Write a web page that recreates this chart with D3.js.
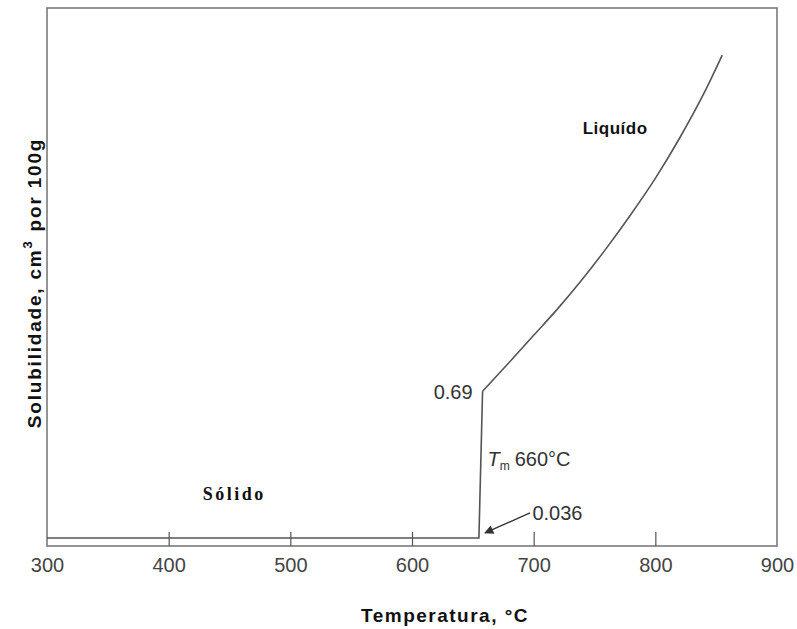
<!DOCTYPE html>
<html>
<head>
<meta charset="utf-8">
<script src="https://d3js.org/d3.v7.min.js"></script>
<style>
  body { margin: 0; background: #fff; }
  svg { display: block; }
</style>
</head>
<body>
<svg width="797" height="629"></svg>
<script>
// solid phase (flat line up to just below Tm)
const solidTemp = [300, 655];
const solidVal = [0.036, 0.036];

// liquid branch
const liquidTemp = [658, 680, 700, 720, 740, 760, 780, 800, 820, 840, 855];
const liquidVal = [0.69, 0.82, 0.94, 1.06, 1.19, 1.33, 1.48, 1.64, 1.82, 2.02, 2.19];

const xTicks = [300, 400, 500, 600, 700, 800, 900];

const svg = d3.select('svg');
const mLeft = 47, mRight = 777, mTop = 8, mBottom = 546;
const sans = 'Liberation Sans, Arial, sans-serif';

const x = d3.scaleLinear().domain([300, 900]).range([mLeft, mRight]);
const y = d3.scaleLinear().domain([0, 2.4]).range([mBottom, mTop]);

// frame
svg.append('rect')
  .attr('x', mLeft).attr('y', mTop)
  .attr('width', mRight - mLeft).attr('height', mBottom - mTop)
  .attr('fill', 'none')
  .attr('stroke', '#7a7a7a')
  .attr('stroke-width', 1.6);

// x axis, ticks pointing inward
const xAxis = d3.axisBottom(x).tickValues(xTicks).tickSizeInner(-14).tickSizeOuter(0).tickPadding(12);
const gx = svg.append('g').attr('transform', `translate(0,${mBottom})`).call(xAxis);
gx.select('.domain').remove();
gx.selectAll('.tick line')
  .attr('stroke', '#555')
  .attr('stroke-width', 1.2)
  .filter(d => d === 300 || d === 900).remove();
gx.selectAll('.tick text')
  .attr('font-family', sans)
  .attr('font-size', 20)
  .attr('fill', '#444');

// phase curve: solid line + jump at Tm, then the liquid branch
const solidPts = solidTemp.map((t, i) => [t, solidVal[i]]);
solidPts.push([liquidTemp[0], liquidVal[0]]);
const liquidPts = liquidTemp.map((t, i) => [t, liquidVal[i]]);

const lin = d3.line().x(d => x(d[0])).y(d => y(d[1]));
const smooth = d3.line().x(d => x(d[0])).y(d => y(d[1])).curve(d3.curveMonotoneX);

svg.append('path')
  .datum(solidPts)
  .attr('d', lin)
  .attr('fill', 'none')
  .attr('stroke', '#555')
  .attr('stroke-width', 1.6);

svg.append('path')
  .datum(liquidPts)
  .attr('d', smooth)
  .attr('fill', 'none')
  .attr('stroke', '#555')
  .attr('stroke-width', 1.6);

// annotations
svg.append('text')
  .attr('x', x(liquidTemp[0]) - 10).attr('y', y(0.69) + 8)
  .attr('text-anchor', 'end')
  .attr('font-family', sans)
  .attr('font-size', 20).attr('fill', '#333')
  .text('0.69');

const tm = svg.append('text')
  .attr('x', x(662)).attr('y', y(0.39) + 7)
  .attr('font-family', sans)
  .attr('font-size', 20).attr('fill', '#333');
tm.append('tspan').attr('font-style', 'italic').text('T');
tm.append('tspan').attr('font-size', 12).attr('dy', 4).text('m');
tm.append('tspan').attr('dy', -4).attr('dx', 5).text('660°C');

svg.append('defs').append('marker')
  .attr('id', 'arrow')
  .attr('viewBox', '0 0 10 10')
  .attr('refX', 9).attr('refY', 5)
  .attr('markerWidth', 9).attr('markerHeight', 7)
  .attr('orient', 'auto')
  .append('path').attr('d', 'M0,0 L10,5 L0,10 z').attr('fill', '#333');

svg.append('line')
  .attr('x1', x(697)).attr('y1', y(0.036) - 25)
  .attr('x2', x(660)).attr('y2', y(0.036) - 5)
  .attr('stroke', '#333').attr('stroke-width', 1.3)
  .attr('marker-end', 'url(#arrow)');

svg.append('text')
  .attr('x', x(699)).attr('y', y(0.036) - 18)
  .attr('font-family', sans)
  .attr('font-size', 20).attr('fill', '#333')
  .text('0.036');

// phase labels
svg.append('text')
  .attr('x', x(767)).attr('y', y(1.84))
  .attr('text-anchor', 'middle')
  .attr('font-family', sans)
  .attr('font-weight', 'bold').attr('font-size', 17)
  .attr('letter-spacing', 0.5).attr('fill', '#111')
  .text('Liquído');

svg.append('text')
  .attr('x', x(454)).attr('y', y(0.205))
  .attr('text-anchor', 'middle')
  .attr('font-family', 'Liberation Serif, Times New Roman, serif')
  .attr('font-weight', 'bold').attr('font-size', 18)
  .attr('letter-spacing', 2.5).attr('fill', '#111')
  .text('Sólido');

// axis titles
svg.append('text')
  .attr('x', 445).attr('y', 622)
  .attr('text-anchor', 'middle')
  .attr('font-family', sans)
  .attr('font-weight', 'bold').attr('font-size', 19)
  .attr('letter-spacing', 1.5).attr('fill', '#111')
  .text('Temperatura, °C');

const yt = svg.append('text')
  .attr('transform', 'translate(41,283) rotate(-90)')
  .attr('text-anchor', 'middle')
  .attr('font-family', sans)
  .attr('font-weight', 'bold').attr('font-size', 19)
  .attr('letter-spacing', 1.8).attr('fill', '#111');
yt.append('tspan').text('Solubilidade, cm');
yt.append('tspan').attr('font-size', 13).attr('dy', -9).text('3');
yt.append('tspan').attr('dy', 9).attr('dx', 8).text('por 100g');
</script>
</body>
</html>
